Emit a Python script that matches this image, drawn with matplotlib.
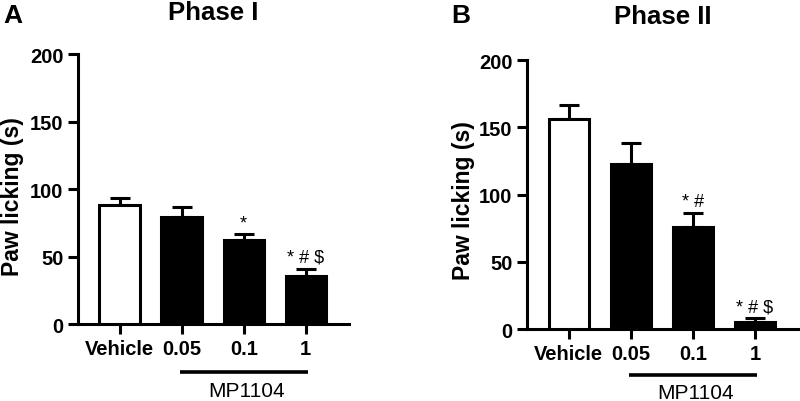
import numpy as np
import matplotlib.pyplot as plt
import matplotlib.transforms as mtransforms

plt.rcParams['font.family'] = ['Liberation Sans', 'DejaVu Sans']

groups = ["Vehicle", "0.05", "0.1", "1"]
phase1_mean = [88, 79, 62, 35.5]
phase1_sem = [5, 7.5, 4.5, 5.5]
phase1_marks = ["", "", "*", "* # $"]
phase2_mean = [156, 123, 76, 5]
phase2_sem = [10.5, 15.5, 10.5, 3]
phase2_marks = ["", "", "* #", "* # $"]
bar_colors = ["white", "black", "black", "black"]
yticks = [0, 50, 100, 150, 200]


def draw_panel(ax, means, sems, marks, title, letter, letter_pos, ylab_pos,
               title_y, line_y, text_y):
    x = np.arange(len(groups))
    ax.bar(x, means, width=0.65, color=bar_colors, edgecolor="black",
           linewidth=2.2, zorder=3)
    ax.errorbar(x, means, yerr=[np.zeros(len(sems)), sems], fmt="none",
                ecolor="black", elinewidth=2.2, capsize=7, capthick=2.2, zorder=2)
    for xi, m, s, lab in zip(x, means, sems, marks):
        if lab:
            ax.annotate(lab, (xi, m + s), xytext=(0, 2), textcoords="offset points",
                        ha="center", va="bottom", fontsize=13)
    ax.set_xlim(-0.67, 3.7)
    ax.set_ylim(0, 200)
    ax.set_yticks(yticks)
    ax.set_xticks(x)
    ax.set_xticklabels(groups)
    for lab in ax.get_xticklabels() + ax.get_yticklabels():
        lab.set_fontweight("bold")
    ax.tick_params(labelsize=14.5, width=2.2, length=7.5, pad=3)
    ax.spines["top"].set_visible(False)
    ax.spines["right"].set_visible(False)
    ax.spines["left"].set_linewidth(2.2)
    ax.spines["bottom"].set_linewidth(2.2)
    ax.text(ylab_pos[0], ylab_pos[1], "Paw licking (s)", transform=ax.transAxes,
            rotation=90, ha="center", va="center", fontsize=16.5, fontweight="bold")
    ax.text(0.5, title_y, title, transform=ax.transAxes, ha="center", va="center",
            fontsize=18.5, fontweight="bold")
    trans = mtransforms.blended_transform_factory(ax.transData, ax.transAxes)
    ax.plot([0.97, 3.03], [line_y, line_y], color="black", lw=2.6,
            transform=trans, clip_on=False, solid_capstyle="butt")
    ax.text(2.05, text_y, "MP1104", transform=trans, ha="center", va="baseline",
            fontsize=15)
    fig.text(letter_pos[0], letter_pos[1], letter, fontsize=19, fontweight="bold",
             ha="left", va="center")


fig = plt.figure(figsize=(8, 4.02), dpi=100)
ax1 = fig.add_axes([0.0975, 0.1915, 0.339, 0.6716])
ax2 = fig.add_axes([0.659, 0.179, 0.339, 0.669])

draw_panel(ax1, phase1_mean, phase1_sem, phase1_marks, "Phase I", "A",
           (0.004, 0.96), (-0.243, 0.476), 1.157, -0.178, -0.267)
draw_panel(ax2, phase2_mean, phase2_sem, phase2_marks, "Phase II", "B",
           (0.564, 0.96), (-0.236, 0.48), 1.164, -0.171, -0.258)

fig.savefig("out.png", dpi=100)
